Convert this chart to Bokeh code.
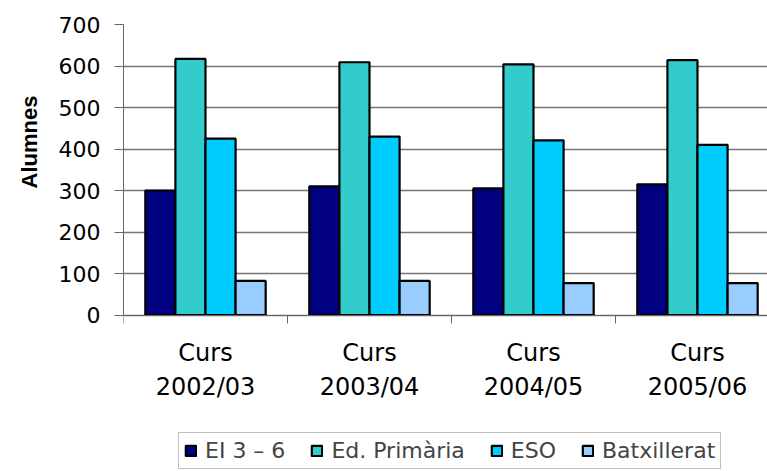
from bokeh.plotting import figure
from bokeh.models import ColumnDataSource, FixedTicker, Legend, LegendItem, Title, Range1d
from bokeh.transform import dodge
from bokeh.embed import file_html
from bokeh.resources import INLINE

# ---- data ----
cursos = ["Curs\n2002/03", "Curs\n2003/04", "Curs\n2004/05", "Curs\n2005/06"]
ei = [300, 310, 305, 315]
primaria = [617, 609, 604, 614]
eso = [425, 430, 421, 410]
batx = [82, 82, 77, 77]
series = ["EI 3 – 6", "Ed. Primària", "ESO", "Batxillerat"]
colors = ["#000080", "#33CCCC", "#00CCFF", "#99CCFF"]
y_ticks = [0, 100, 200, 300, 400, 500, 600, 700]

cat_x = [i + 0.5 for i in range(len(cursos))]
source = ColumnDataSource(dict(x=cat_x, ei=ei, primaria=primaria, eso=eso, batx=batx))
keys = ["ei", "primaria", "eso", "batx"]

# frame runs to the bottom of the canvas so the legend can sit inside it
px_per_unit = (314.5 - 24) / 700
y_start = -(471 - 314.5) / px_per_unit

p = figure(width=767, height=471, output_backend="svg", toolbar_location=None,
           x_range=Range1d(0, 644 / 164), y_range=Range1d(y_start, 700),
           min_border_left=123, min_border_right=0, min_border_top=24, min_border_bottom=0)
p.outline_line_color = None
p.xgrid.grid_line_color = None
p.ygrid.grid_line_color = "#767676"
p.ygrid.grid_line_width = 1.3
p.ygrid.ticker = FixedTicker(ticks=y_ticks)

bw = 0.1835
renderers = []
for k, (key, col) in enumerate(zip(keys, colors)):
    off = (k - 1.5) * bw
    r = p.vbar(x=dodge("x", off, range=p.x_range), top=key, bottom=0, width=bw, source=source,
               fill_color=col, line_color="black", line_width=2.2, line_alpha=1.0)
    renderers.append(r)

# y axis
ya = p.yaxis[0]
ya.ticker = FixedTicker(ticks=y_ticks)
ya.bounds = (0, 700)
ya.major_tick_out = 9
ya.major_tick_in = 0
ya.minor_tick_line_color = None
ya.axis_line_color = "#666666"
ya.major_tick_line_color = "#666666"
ya.major_label_text_font = "DejaVu Sans"
ya.major_label_text_font_size = "22px"
ya.major_label_text_color = "black"
ya.major_label_standoff = 14

# x axis at y=0: labels centred, tick marks at group boundaries
xa = p.xaxis[0]
xa.fixed_location = 0
xa.ticker = FixedTicker(ticks=cat_x, minor_ticks=[0, 1, 2, 3])
xa.major_label_overrides = {float(x): lab for x, lab in zip(cat_x, cursos)}
xa.major_tick_line_color = None
xa.major_tick_out = 8
xa.minor_tick_out = 8
xa.minor_tick_in = 0
xa.minor_tick_line_color = "#666666"
xa.axis_line_color = "#666666"
xa.major_label_text_font = "DejaVu Sans"
xa.major_label_text_font_size = "24px"
xa.major_label_text_color = "black"
xa.major_label_standoff = 16

# y title
t = Title(text="Alumnes", align="left", offset=283, standoff=28, text_font="Liberation Sans",
          text_font_size="22px", text_font_style="bold", text_color="black")
p.add_layout(t, "left")

items = [LegendItem(label=s, renderers=[r]) for s, r in zip(series, renderers)]
legend = Legend(items=items, orientation="horizontal", location=(55, 2),
                glyph_width=13, glyph_height=13, label_text_font="DejaVu Sans",
                label_text_font_size="22px", spacing=25, label_standoff=8,
                padding=5, margin=0, border_line_color="#808080", border_line_width=1.5,
                background_fill_color="white", background_fill_alpha=1)
p.add_layout(legend)

open("out.html", "w").write(file_html(p, INLINE))
